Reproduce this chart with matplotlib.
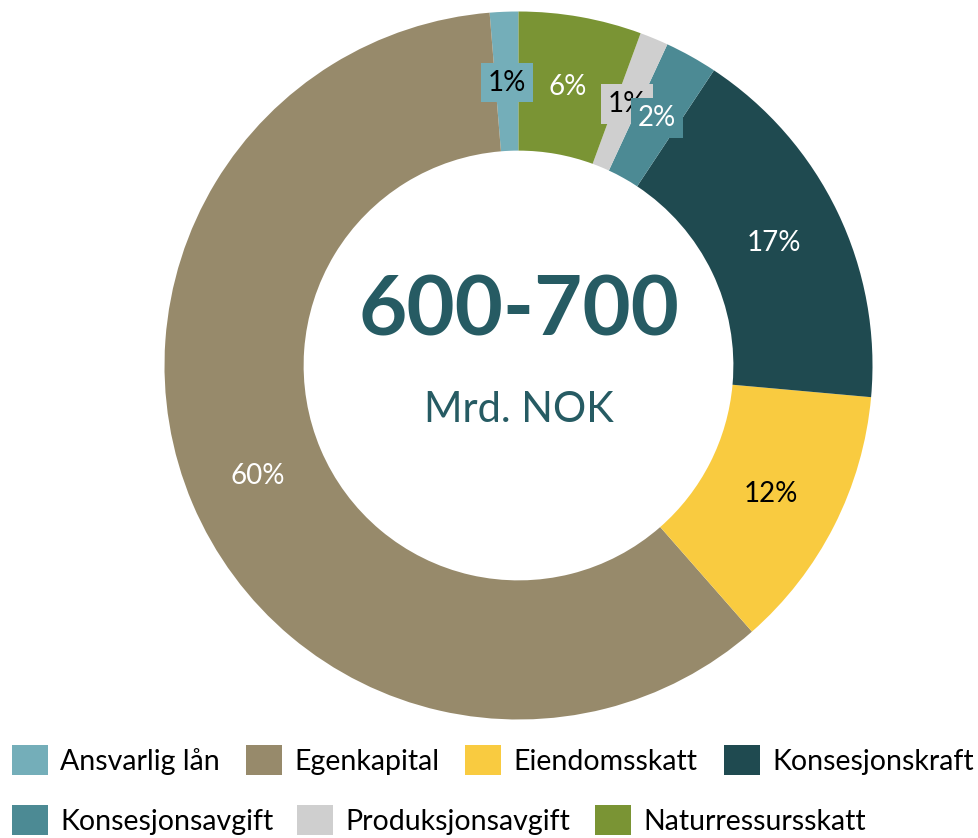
import matplotlib
matplotlib.use("Agg")
import matplotlib.pyplot as plt

# shares in percent, legend order (pie runs counter-clockwise from 12 o'clock)
categories = ["Ansvarlig lån", "Egenkapital", "Eiendomsskatt", "Konsesjonskraft",
              "Konsesjonsavgift", "Produksjonsavgift", "Naturressursskatt"]
shares = [1.3, 60.1, 12.1, 17.1, 2.4, 1.3, 5.6]
colors = ["#74AEB9", "#978A6B", "#F9CB40", "#1F4A50", "#4C8A94", "#CFCFCF", "#7A9434"]
label_colors = ["black", "white", "black", "white", "white", "black", "white"]
boxed = [True, False, False, False, True, True, False]

center_big = "600-700"
center_small = "Mrd. NOK"
center_color = "#265B63"

# legend entry anchors (pixels from top-left), flowing like the original legend
legend_x = [12, 246, 465, 724, 12, 297, 595]
legend_y = [745, 745, 745, 745, 805, 805, 805]

plt.rcParams['font.family'] = ['Lato', 'DejaVu Sans']

W, H = 979, 838
fig = plt.figure(figsize=(W / 100, H / 100), dpi=100)
ax = fig.add_axes([164.5 / W, 118.5 / H, 708 / W, 708 / H])

wedges, texts, autotexts = ax.pie(
    shares, colors=colors, startangle=90, counterclock=True, radius=1,
    wedgeprops=dict(width=0.393, linewidth=0),
    autopct='%.0f%%', pctdistance=0.8,
    textprops=dict(fontsize=20))

for i, t in enumerate(autotexts):
    t.set_color(label_colors[i])
    t.set_zorder(10 + (i if i != 5 else 3))
    if boxed[i]:
        t.set_bbox(dict(facecolor=colors[i], edgecolor='none', pad=5))

ax.text(0, 0.086, center_big, ha='center', va='baseline', fontsize=60,
        fontweight='bold', color=center_color)
ax.text(0, -0.16, center_small, ha='center', va='baseline', fontsize=30,
        color=center_color)
ax.set_xlim(-1, 1)
ax.set_ylim(-1, 1)
ax.axis('off')

leg_kw = dict(frameon=False, fontsize=20.5, handlelength=1.27, handleheight=1.27,
              handletextpad=0.42, borderpad=0, borderaxespad=0, loc='upper left')
for i, name in enumerate(categories):
    fig.legend([wedges[i]], [name],
               bbox_to_anchor=(legend_x[i] / W, 1 - legend_y[i] / H), **leg_kw)

fig.savefig("out.png", dpi=100)
